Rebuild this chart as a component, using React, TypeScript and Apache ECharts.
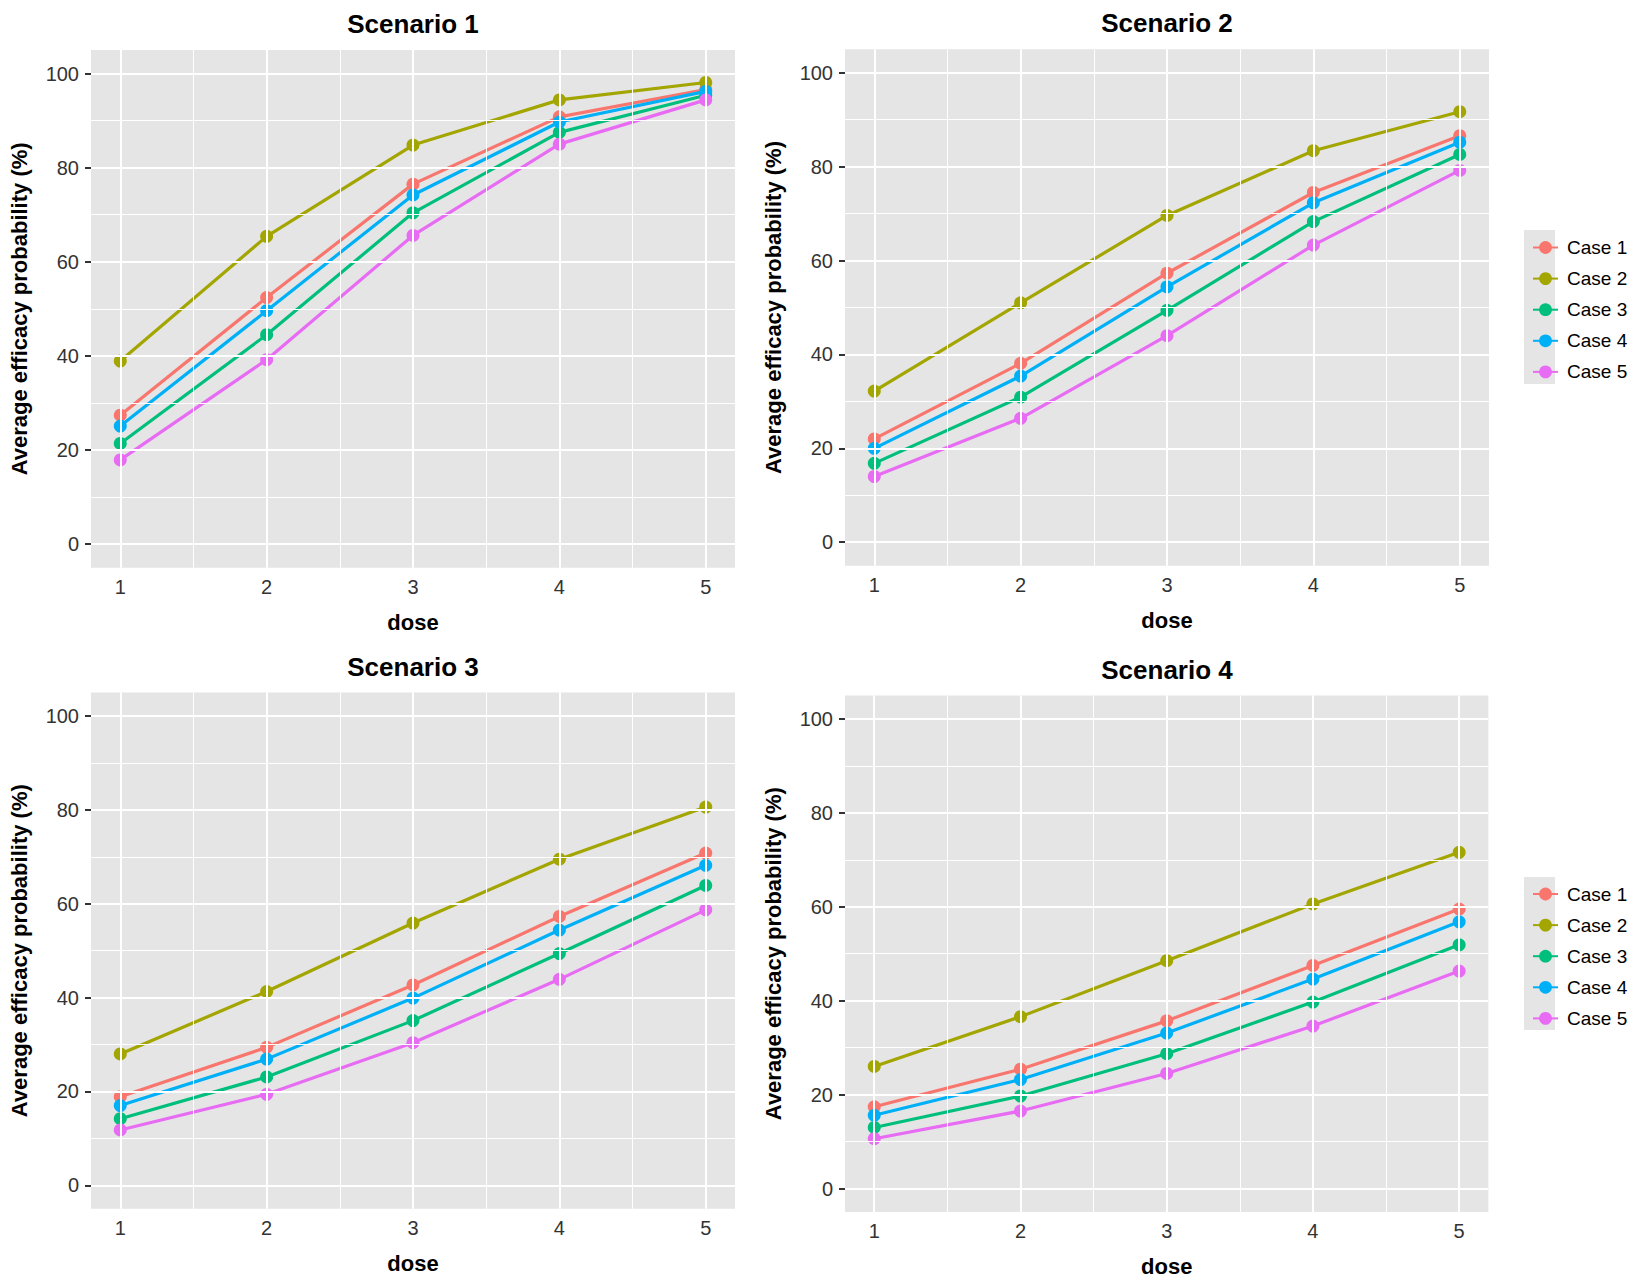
import React, { useEffect, useRef } from "react";
import * as echarts from "echarts";

// ---- data ----
const doses = [1, 2, 3, 4, 5];
const caseNames = ["Case 1", "Case 2", "Case 3", "Case 4", "Case 5"];
const caseColors = ["#F8766D", "#A3A500", "#00BF7D", "#00B0F6", "#E76BF3"];
const scenarioTitles = ["Scenario 1", "Scenario 2", "Scenario 3", "Scenario 4"];

// each row: Case 1..5, values at dose 1..5
const scenario1 = [
  [27.4, 52.4, 76.5, 90.8, 96.6],
  [38.9, 65.4, 84.8, 94.4, 98.1],
  [21.4, 44.5, 70.4, 87.5, 95.4],
  [25.1, 49.6, 74.2, 89.7, 96.2],
  [17.9, 39.2, 65.6, 85.0, 94.4],
];
const scenario2 = [
  [22.0, 38.1, 57.3, 74.5, 86.6],
  [32.2, 51.0, 69.6, 83.4, 91.7],
  [16.8, 30.9, 49.4, 68.3, 82.6],
  [20.0, 35.4, 54.4, 72.3, 85.2],
  [14.0, 26.4, 44.0, 63.3, 79.2],
];
const scenario3 = [
  [18.9, 29.4, 42.7, 57.3, 70.8],
  [28.0, 41.3, 55.9, 69.5, 80.6],
  [14.2, 23.1, 35.1, 49.4, 63.9],
  [17.0, 26.9, 39.9, 54.4, 68.2],
  [11.8, 19.4, 30.4, 43.9, 58.7],
];
const scenario4 = [
  [17.4, 25.4, 35.7, 47.5, 59.5],
  [26.0, 36.6, 48.5, 60.6, 71.6],
  [13.0, 19.7, 28.7, 39.7, 51.9],
  [15.6, 23.2, 33.1, 44.6, 56.8],
  [10.6, 16.5, 24.5, 34.6, 46.3],
];
const scenarios = [scenario1, scenario2, scenario3, scenario4];

const yTicks = [0, 20, 40, 60, 80, 100];
const yMinor = [10, 30, 50, 70, 90];
const xTicks = [1, 2, 3, 4, 5];
const xMinor = [1.5, 2.5, 3.5, 4.5];

const FONT = "'Liberation Sans', Arial, Helvetica, sans-serif";

export default function App() {
  const ref = useRef<HTMLDivElement>(null);

  useEffect(() => {
    if (!ref.current) return;
    const chart = echarts.init(ref.current, null, { renderer: "svg" });

    const grids = [
      { left: 91, top: 50, width: 644, height: 517.7 },
      { left: 845, top: 49.3, width: 644, height: 516.4 },
      { left: 91, top: 692.6, width: 644, height: 516.2 },
      { left: 845, top: 695.4, width: 643.4, height: 516.6 },
    ];

    const panelBg = "#E5E5E5";

    const xAxes = grids.map((_, i) => ({
      type: "value",
      gridIndex: i,
      min: 0.8,
      max: 5.2,
      name: "dose",
      nameLocation: "middle",
      nameGap: 43.5,
      nameTextStyle: { fontSize: 22, fontWeight: "bold", color: "#000", fontFamily: FONT },
      axisLine: { show: false },
      axisTick: { show: true, customValues: xTicks, length: 6, lineStyle: { color: "#333", width: 2 } },
      axisLabel: { show: true, customValues: xTicks, margin: 9, fontSize: 20, color: "#333", fontFamily: FONT },
      splitLine: { show: false },
    }));

    const yAxes = grids.map((_, i) => ({
      type: "value",
      gridIndex: i,
      min: -5,
      max: 105,
      name: "Average efficacy probability (%)",
      nameLocation: "middle",
      nameGap: 61,
      nameTextStyle: { fontSize: 22, fontWeight: "bold", color: "#000", fontFamily: FONT },
      axisLine: { show: false },
      axisTick: { show: true, customValues: yTicks, length: 6, lineStyle: { color: "#333", width: 2 } },
      axisLabel: { show: true, customValues: yTicks, margin: 12, fontSize: 20, color: "#333", fontFamily: FONT },
      splitLine: { show: false },
    }));

    const gridSeries = grids.map((_, i) => ({
      type: "line",
      name: "grid" + i,
      xAxisIndex: i,
      yAxisIndex: i,
      data: [],
      silent: true,
      z: 1,
      markLine: {
        silent: true,
        symbol: ["none", "none"],
        label: { show: false },
        animation: false,
        data: [
          ...yMinor.map((v) => ({ yAxis: v, lineStyle: { color: "#fff", width: 1, type: "solid" } })),
          ...xMinor.map((v) => ({ xAxis: v, lineStyle: { color: "#fff", width: 1, type: "solid" } })),
          ...yTicks.map((v) => ({ yAxis: v, lineStyle: { color: "#fff", width: 2, type: "solid" } })),
          ...xTicks.map((v) => ({ xAxis: v, lineStyle: { color: "#fff", width: 2, type: "solid" } })),
        ],
      },
    }));

    const dataSeries: any[] = [];
    scenarios.forEach((sc, gi) => {
      sc.forEach((vals, ci) => {
        dataSeries.push({
          type: "line",
          name: caseNames[ci],
          xAxisIndex: gi,
          yAxisIndex: gi,
          data: doses.map((d, k) => [d, vals[k]]),
          symbol: "circle",
          symbolSize: 13,
          showSymbol: true,
          lineStyle: { color: caseColors[ci], width: 3.2 },
          itemStyle: { color: caseColors[ci] },
          z: 3,
          emphasis: { disabled: true },
        });
      });
    });

    const titleCenters = [
      { x: 413, y: 23.7 },
      { x: 1167, y: 23.3 },
      { x: 413, y: 666.7 },
      { x: 1167, y: 669.6 },
    ];

    const legendCommon = {
      orient: "vertical",
      left: 1527,
      itemWidth: 25,
      itemHeight: 16,
      itemGap: 12.1,
      data: caseNames,
      selectedMode: false,
      textStyle: { fontSize: 19, color: "#000", fontFamily: FONT, padding: [0, 0, 0, 4] },
    };

    chart.setOption({
      animation: false,
      grid: grids.map((g) => ({ ...g, show: true, backgroundColor: panelBg, borderWidth: 0, containLabel: false })),
      xAxis: xAxes,
      yAxis: yAxes,
      legend: [
        { ...legendCommon, top: 233 },
        { ...legendCommon, top: 879.5 },
      ],
      graphic: [
        { type: "rect", z: -1, shape: { x: 1524, y: 230, width: 31, height: 154 }, style: { fill: panelBg } },
        { type: "rect", z: -1, shape: { x: 1524, y: 877, width: 31, height: 153 }, style: { fill: panelBg } },
        ...titleCenters.map((c, i) => ({
          type: "text",
          x: c.x,
          y: c.y,
          style: {
            text: scenarioTitles[i],
            fill: "#000",
            font: `bold 26px ${FONT}`,
            textAlign: "center",
            textVerticalAlign: "middle",
          },
        })),
      ],
      series: [...gridSeries, ...dataSeries],
    });

    return () => chart.dispose();
  }, []);

  return (
    <div
      ref={ref}
      style={{ position: "absolute", left: 0, top: 0, width: 1642, height: 1284, background: "#fff" }}
    />
  );
}
